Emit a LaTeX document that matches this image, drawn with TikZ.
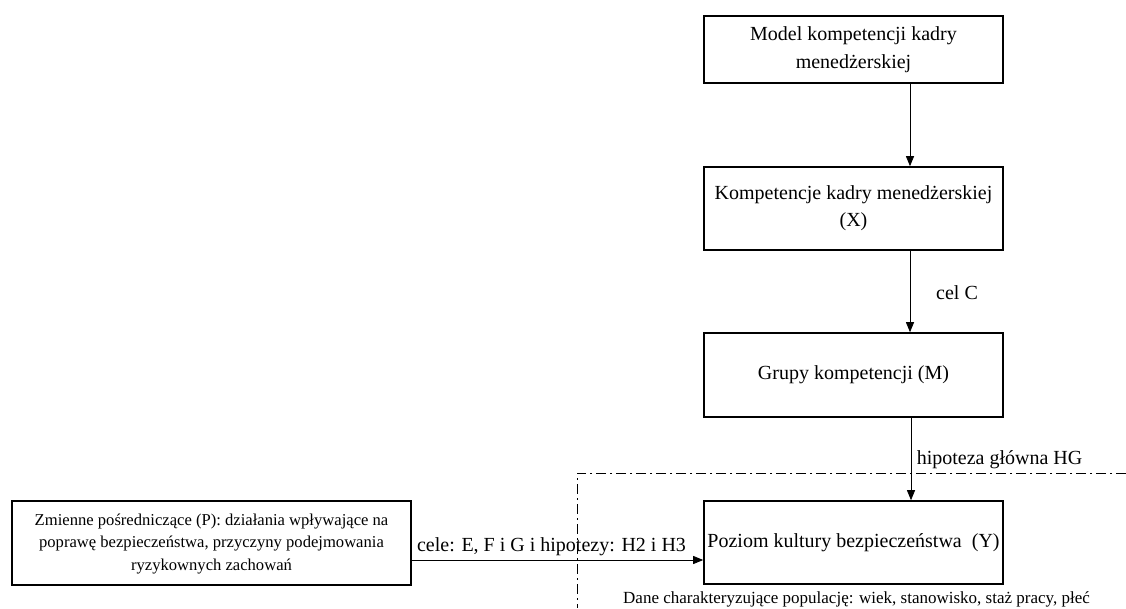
\documentclass[tikz,border=0pt]{standalone}
\usepackage{fontspec}
\setmainfont{Liberation Serif}
\usetikzlibrary{arrows.meta}
\begin{document}
\begin{tikzpicture}[x=1pt,y=-1pt,
  box/.style={draw=black,line width=1.6pt,rectangle,inner sep=0pt,align=center,
    minimum width=299pt,font=\fontsize{20}{27}\selectfont},
  conn/.style={draw=black,line width=0.8pt,-{Triangle[length=10pt,width=8pt]}},
  lbl/.style={inner sep=0pt,font=\fontsize{20}{24}\selectfont},
  dashdot/.style={draw=black,line width=0.8pt,dash pattern=on 10pt off 4pt on 2pt off 4pt}]
\useasboundingbox (0,0) rectangle (1126,608);
\node[box,minimum height=67pt] (m1) at (853.5,49.5) {\raisebox{-4pt}{\begin{tabular}{@{}c@{}}Model kompetencji kadry\\[1pt] menedżerskiej\end{tabular}}};
\node[box,minimum height=83pt] (m2) at (853.5,208.5) {Kompetencje kadry menedżerskiej\\(X)};
\node[box,minimum height=84pt] (m3) at (853.5,375) {Grupy kompetencji (M)};
\node[box,minimum height=83pt] (y) at (853.5,542.5) {Poziom kultury bezpieczeństwa\ \ (Y)};
\node[box,minimum width=399pt,minimum height=84pt,font=\fontsize{16.6}{22.5}\selectfont] (p) at (211.5,543) {\raisebox{-6pt}{\begin{tabular}{@{}c@{}}Zmienne pośredniczące (P): działania wpływające na\\ poprawę bezpieczeństwa, przyczyny podejmowania\\ ryzykownych zachowań\end{tabular}}};
\coordinate (d1) at (1126,473);
\coordinate (d2) at (577,473);
\coordinate (d3) at (577,608);
\draw[dashdot] (d1) -- (d2) -- (d3);
\draw[conn] (m1.south -| 910,0) -- (m2.north -| 910,0);
\draw[conn] (m2.south -| 910,0) -- (m3.north -| 910,0);
\draw[conn] (m3.south -| 911,0) -- (y.north -| 911,0);
\draw[conn] (p.east |- 0,560) -- (y.west |- 0,560);
\node[lbl] (lc) at (957,293) {cel C};
\node[lbl] (lhg) at (999.5,460) {hipoteza główna HG};
\node[lbl] (lce) at (551.5,547) {cele: E, F i G i hipotezy: H2 i H3};
\node[inner sep=0pt,font=\fontsize{17}{20}\selectfont] (ld) at (856.5,599) {Dane charakteryzujące populację: wiek, stanowisko, staż pracy, płeć};
\end{tikzpicture}
\end{document}
